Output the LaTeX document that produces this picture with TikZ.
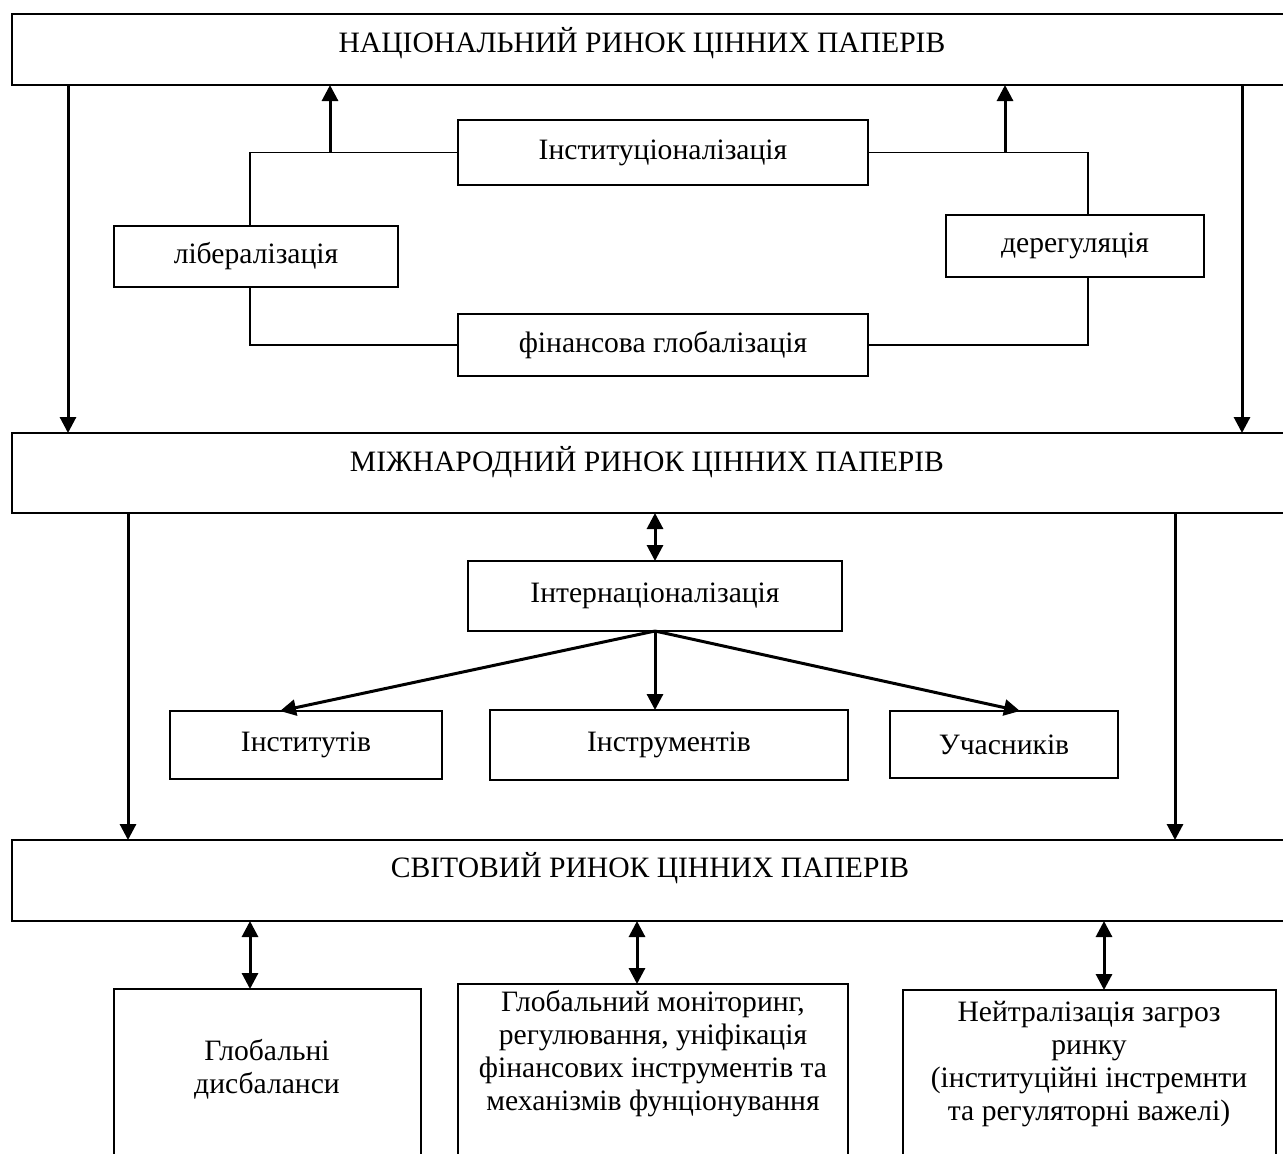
\documentclass[tikz,border=0pt]{standalone}
\usepackage{fontspec}
\setmainfont{Liberation Serif}
\usetikzlibrary{arrows.meta}
\begin{document}
\begin{tikzpicture}[x=0.5pt,y=-0.5pt,
  box/.style={draw, line width=0.75pt, inner sep=0pt, outer sep=0pt},
  bigbox/.style={box, line width=1pt},
  txt/.style={inner sep=0pt, outer sep=0pt, align=center, font=\fontsize{14.8}{16.5}\selectfont},
  arr/.style={line width=1.5pt, -{Triangle[width=8pt,length=8pt]}},
  darr/.style={line width=1.5pt, {Triangle[width=8pt,length=8pt]}-{Triangle[width=8pt,length=8pt]}},
  link/.style={line width=0.75pt}]
\useasboundingbox (0,0) rectangle (1283,1153);
\clip (0,0) rectangle (1283,1153);

% three market levels
\node[bigbox, minimum width=644pt, minimum height=35.5pt] (nat) at (656,49.5) {};
\node[txt] (natT) at (642,43) {НАЦІОНАЛЬНИЙ РИНОК ЦІННИХ ПАПЕРІВ};
\node[bigbox, minimum width=644pt, minimum height=40pt] (mid) at (656,473) {};
\node[txt] (midT) at (647,462) {МІЖНАРОДНИЙ РИНОК ЦІННИХ ПАПЕРІВ};
\node[bigbox, minimum width=644pt, minimum height=40.5pt] (world) at (656,880.5) {};
\node[txt] (worldT) at (650,868) {СВІТОВИЙ РИНОК ЦІННИХ ПАПЕРІВ};

% processes between national and international levels
\node[box, txt, draw, line width=0.75pt, minimum width=205pt, minimum height=32.5pt] (inst) at (663,152.5) {Інституціоналізація};
\node[box, txt, draw, line width=0.75pt, minimum width=142pt, minimum height=30.5pt] (lib) at (256,256.5) {лібералізація};
\node[box, txt, draw, line width=0.75pt, minimum width=129pt, minimum height=31pt] (dereg) at (1075,246) {дерегуляція};
\node[box, txt, draw, line width=0.75pt, minimum width=205pt, minimum height=31pt] (fin) at (663,345) {фінансова глобалізація};

% internationalisation block
\node[box, txt, draw, line width=0.75pt, minimum width=187pt, minimum height=35pt] (intl) at (655,596) {Інтернаціоналізація};
\node[box, txt, draw, line width=0.75pt, minimum width=136pt, minimum height=34pt] (ins2) at (306,745) {Інститутів};
\node[box, txt, draw, line width=0.75pt, minimum width=179pt, minimum height=35pt] (instr) at (669,745) {Інструментів};
\node[box, txt, draw, line width=0.75pt, minimum width=114pt, minimum height=33.5pt] (uch) at (1004,744.5) {Учасників};

% lower boxes
\node[box, minimum width=153.5pt, minimum height=90.5pt] (b1) at (267.5,1079.5) {};
\node[txt] (b1T) at (267,1069) {Глобальні\\дисбаланси};
\node[box, minimum width=195pt, minimum height=93pt] (b2) at (653,1077) {};
\node[txt] (b2T) at (653,1054) {Глобальний моніторинг,\\регулювання, уніфікація\\фінансових інструментів та\\механізмів фунціонування};
\node[box, minimum width=186.5pt, minimum height=90pt] (b3) at (1089.5,1080) {};
\node[txt] (b3T) at (1089,1064) {Нейтралізація загроз\\ринку\\(інституційні інстремнти\\та регуляторні важелі)};

% helper abscissae
\coordinate (lx) at (250,0);
\coordinate (rx) at (1088,0);
\coordinate (ul) at (330,0);
\coordinate (ur) at (1005,0);
\coordinate (dl) at (68,0);
\coordinate (dr) at (1242,0);
\coordinate (dl2) at (128,0);
\coordinate (dr2) at (1175,0);
\coordinate (fl) at (280,0);
\coordinate (fr) at (1020,0);
\coordinate (k1) at (250,0);
\coordinate (k2) at (637,0);
\coordinate (k3) at (1104,0);

% ring of processes
\draw[link] (inst.west) -| (lib.north -| lx);
\draw[link] (lib.south -| lx) |- (fin.west);
\draw[link] (inst.east) -| (dereg.north -| rx);
\draw[link] (dereg.south -| rx) |- (fin.east);
\draw[arr] (inst.west -| ul) -- (nat.south -| ul);
\draw[arr] (inst.east -| ur) -- (nat.south -| ur);

% level-to-level arrows
\draw[arr] (nat.south -| dl) -- (mid.north -| dl);
\draw[arr] (nat.south -| dr) -- (mid.north -| dr);
\draw[arr] (mid.south -| dl2) -- (world.north -| dl2);
\draw[arr] (mid.south -| dr2) -- (world.north -| dr2);

% internationalisation
\draw[darr] (mid.south -| intl.north) -- (intl.north);
\draw[arr] (intl.south) -- (ins2.north -| fl);
\draw[arr] (intl.south) -- (instr.north -| intl.south);
\draw[arr] (intl.south) -- (uch.north -| fr);

% world market links
\draw[darr] (world.south -| k1) -- (b1.north -| k1);
\draw[darr] (world.south -| k2) -- (b2.north -| k2);
\draw[darr] (world.south -| k3) -- (b3.north -| k3);
\end{tikzpicture}
\end{document}
